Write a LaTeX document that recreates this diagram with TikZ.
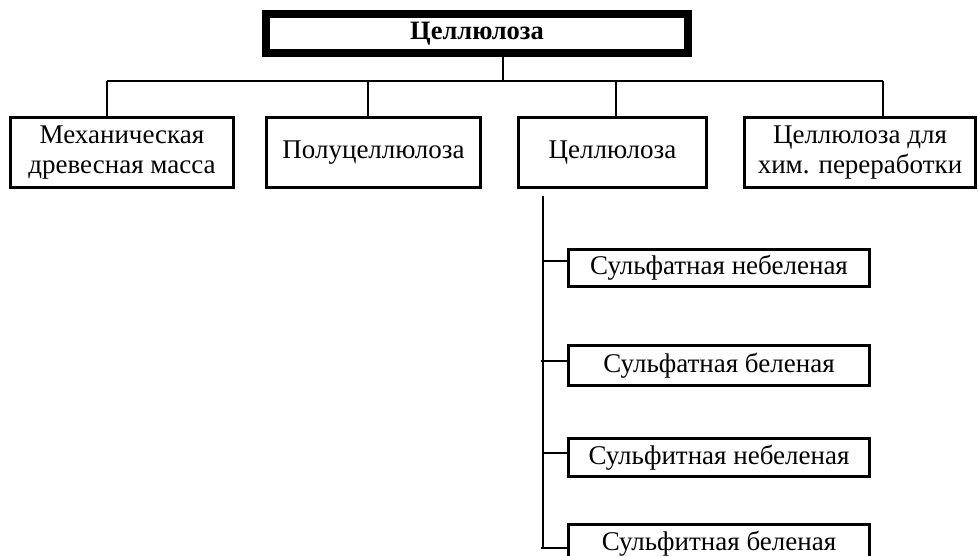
\documentclass[tikz,border=0pt]{standalone}
\usepackage{fontspec}
\setmainfont{Liberation Serif}
\begin{document}
\begin{tikzpicture}[x=1pt,y=-1pt,
  box/.style={draw, line width=3pt, inner sep=0pt, align=center,
    font=\fontsize{27}{30}\selectfont},
  topbox/.style={draw, line width=8pt, inner sep=0pt, align=center,
    font=\fontsize{26.5}{30}\selectfont\bfseries, minimum width=422pt, minimum height=39pt},
  conn/.style={line width=2pt}]
\useasboundingbox (0,0) rectangle (978,556);
\clip (0,0) rectangle (978,556);
\node[topbox] (top) at (477,33.5) {Целлюлоза};
\node[box, minimum width=223pt, minimum height=70pt] (b1) at (122,152.5) {Механическая\\древесная масса};
\node[box, minimum width=214pt, minimum height=70pt] (b2) at (373.5,152.5) {Полуцеллюлоза};
\node[box, minimum width=188pt, minimum height=70pt] (b3) at (612.5,152.5) {Целлюлоза};
\node[box, minimum width=231pt, minimum height=70pt] (b4) at (860,152.5) {Целлюлоза для\\хим. переработки};
\node[box, minimum width=301pt, minimum height=37pt] (s1) at (719,268) {Сульфатная небеленая};
\node[box, minimum width=301pt, minimum height=40pt] (s2) at (719,365.5) {Сульфатная беленая};
\node[box, minimum width=301pt, minimum height=38pt] (s3) at (719,457.5) {Сульфитная небеленая};
\node[box, minimum width=301pt, minimum height=40pt] (s4) at (719,544) {Сульфитная беленая};
% bus
\coordinate (busL) at (107,81);
\coordinate (busR) at (883,81);
\coordinate (d0) at (503,81);
\coordinate (d2) at (368,81);
\coordinate (d3) at (616,81);
\draw[conn] (busL) -- (busR);
\draw[conn] (d0) -- (d0 |- top.south);
\draw[conn] (busL) -- (busL |- b1.north);
\draw[conn] (d2) -- (d2 |- b2.north);
\draw[conn] (d3) -- (d3 |- b3.north);
\draw[conn] (busR) -- (busR |- b4.north);
% trunk
\coordinate (tt) at (543,196);
\coordinate (tb) at (543,548);
\draw[conn] (tt) -- (tb);
\coordinate (t1) at (543,261);
\coordinate (t2) at (541,361);
\coordinate (t3) at (543,453);
\coordinate (t4) at (541,548);
\draw[conn] (t1) -- ([xshift=3pt]t1 -| s1.west);
\draw[conn] (t2) -- ([xshift=3pt]t2 -| s2.west);
\draw[conn] (t3) -- ([xshift=3pt]t3 -| s3.west);
\draw[conn] (t4) -- ([xshift=3pt]t4 -| s4.west);
\end{tikzpicture}
\end{document}
